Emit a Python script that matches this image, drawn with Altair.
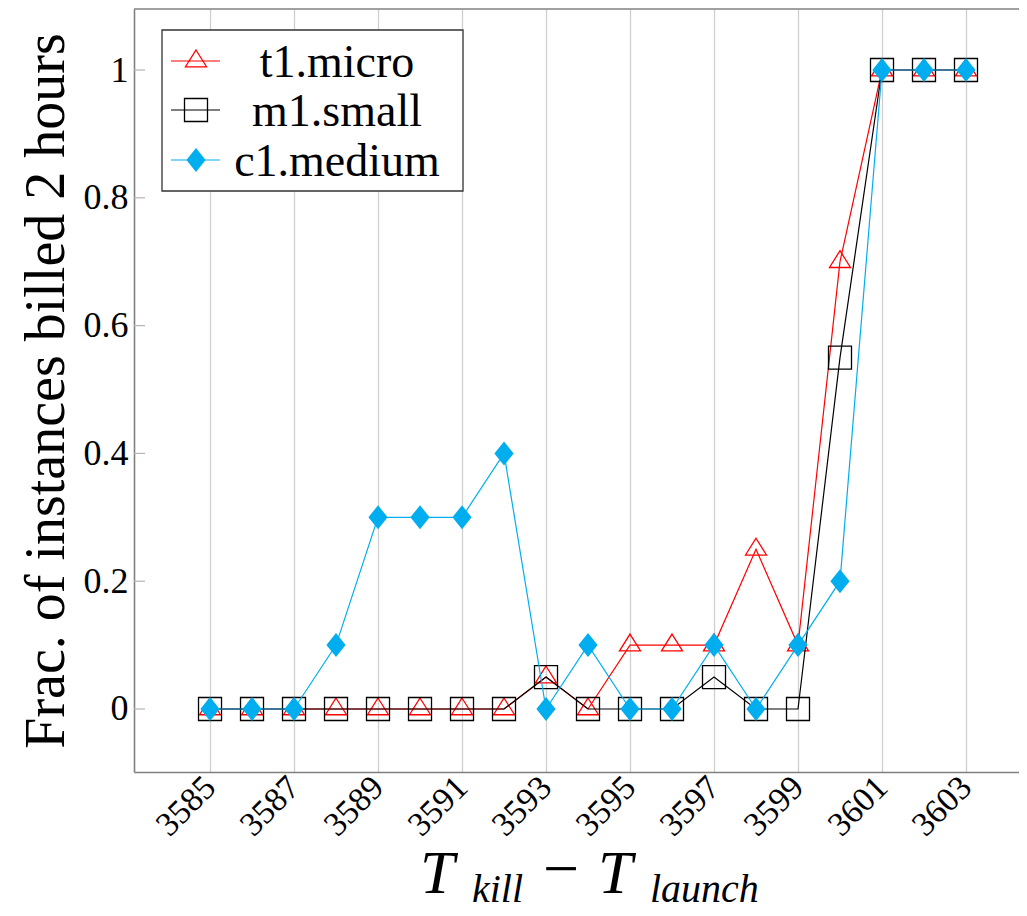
import altair as alt
import pandas as pd

# ---- data ----
x_vals = list(range(3585, 3604))
t1_micro = [0, 0, 0, 0, 0, 0, 0, 0, 0.05, 0, 0.1, 0.1, 0.1, 0.25, 0.1, 0.7, 1, 1, 1]
m1_small = [0, 0, 0, 0, 0, 0, 0, 0, 0.05, 0, 0, 0, 0.05, 0, 0, 0.55, 1, 1, 1]
c1_medium = [0, 0, 0, 0.1, 0.3, 0.3, 0.3, 0.4, 0, 0.1, 0, 0, 0.1, 0, 0.1, 0.2, 1, 1, 1]
series_names = ["t1.micro", "m1.small", "c1.medium"]
x_tick_values = list(range(3585, 3604, 2))
y_tick_values = [0, 0.2, 0.4, 0.6, 0.8, 1]

series_values = [t1_micro, m1_small, c1_medium]
rows = []
for name, vals in zip(series_names, series_values):
    for xv, yv in zip(x_vals, vals):
        rows.append({"series": name, "x": xv, "y": yv})
df = pd.DataFrame(rows)
ticks_df = pd.DataFrame({"v": y_tick_values})
one = pd.DataFrame({"k": [0]})

# ---- style ----
FONT = "'Liberation Serif', 'Times New Roman', 'DejaVu Serif', serif"
RED = "#ff0000"
BLACK = "#000000"
CYAN = "#00aeef"
W, H = 885, 763
TRI = "M0,-1.05L1,0.55L-1,0.55Z"
SQ = "square"
DIA = "M0,-1L0.8,0L0,1L-0.8,0Z"
styles = {
    "t1.micro": dict(color=RED, shape=TRI, filled=False, size=441),
    "m1.small": dict(color=BLACK, shape=SQ, filled=False, size=529),
    "c1.medium": dict(color=CYAN, shape=DIA, filled=True, size=576),
}

xscale = alt.Scale(domain=[3583.19, 3604.262], nice=False, zero=False)
yscale = alt.Scale(domain=[-0.0986, 1.0955], nice=False, zero=False)

xaxis = alt.Axis(values=x_tick_values, format="d", labelAngle=315, labelAlign="right",
                 labelBaseline="middle", labelFont=FONT, labelFontSize=34, labelColor="black",
                 labelPadding=10, ticks=False, grid=True, gridColor="#cfcfcf", gridWidth=1.3,
                 domainColor="#808080", domainWidth=1.6, title=None, labelFlush=False,
                 labelOverlap=False)
yaxis = alt.Axis(values=y_tick_values, format="~g", labelFont=FONT, labelFontSize=36,
                 labelColor="black", labelPadding=6, ticks=False, grid=False,
                 domainColor="#808080", domainWidth=1.6,
                 title="Frac. of instances billed 2 hours", titleFont=FONT, titleFontSize=56,
                 titleFontWeight="normal", titleColor="black", titlePadding=8)

base = alt.Chart(df)

layers = []
# inward y ticks
layers.append(
    alt.Chart(ticks_df).mark_rule(color="#b5b5b5", strokeWidth=1.2).encode(
        x=alt.value(0), x2=alt.value(11),
        y=alt.Y("v:Q", scale=yscale, axis=yaxis),
    )
)
for name in series_names:
    st = styles[name]
    sub = base.transform_filter(alt.datum.series == name)
    enc = dict(x=alt.X("x:Q", scale=xscale, axis=xaxis),
               y=alt.Y("y:Q", scale=yscale, axis=yaxis))
    layers.append(sub.mark_line(color=st["color"], strokeWidth=1.2).encode(**enc))
    if st["filled"]:
        pm = sub.mark_point(shape=st["shape"], size=st["size"], filled=True,
                            color=st["color"], opacity=1, strokeWidth=0)
    else:
        pm = sub.mark_point(shape=st["shape"], size=st["size"], filled=False,
                            color=st["color"], opacity=1, strokeWidth=1.3)
    layers.append(pm.encode(**enc))

# top frame line
layers.append(
    alt.Chart(one).mark_rule(color="#808080", strokeWidth=1.6).encode(
        x=alt.value(0), x2=alt.value(W), y=alt.value(0)
    )
)

# legend box
layers.append(
    alt.Chart(one).mark_rect(fill="white", stroke="#333333", strokeWidth=1.3).encode(
        x=alt.value(28), x2=alt.value(329), y=alt.value(21), y2=alt.value(182)
    )
)
legend_rows_y = [52, 101, 151]
for name, ry in zip(series_names, legend_rows_y):
    st = styles[name]
    layers.append(
        alt.Chart(one).mark_rule(color=st["color"], strokeWidth=1.2).encode(
            x=alt.value(37), x2=alt.value(86), y=alt.value(ry)
        )
    )
    if st["filled"]:
        lm = alt.Chart(one).mark_point(shape=st["shape"], size=st["size"], filled=True,
                                       color=st["color"], opacity=1, strokeWidth=0)
    else:
        lm = alt.Chart(one).mark_point(shape=st["shape"], size=st["size"], filled=False,
                                       color=st["color"], opacity=1, strokeWidth=1.3)
    layers.append(lm.encode(x=alt.value(62), y=alt.value(ry)))
    layers.append(
        alt.Chart(one).mark_text(font=FONT, fontSize=46, align="center", baseline="middle",
                                 color="black").encode(
            x=alt.value(203), y=alt.value(ry + 2), text=alt.value(name)
        )
    )

# x-axis title: T_kill - T_launch
title_parts = [
    ("T", 286, 884, 62, "italic"),
    ("kill", 338, 893, 40, "italic"),
    ("\u2212", 409, 881, 64, "normal"),
    ("T", 464, 884, 62, "italic"),
    ("launch", 516, 893, 40, "italic"),
]
for txt, tx, ty, fs, fst in title_parts:
    layers.append(
        alt.Chart(one).mark_text(font=FONT, fontSize=fs, fontStyle=fst, align="left",
                                 baseline="alphabetic", color="black").encode(
            x=alt.value(tx), y=alt.value(ty), text=alt.value(txt)
        )
    )

chart = alt.layer(*layers).properties(
    width=W, height=H,
    padding={"left": 126, "top": 1, "right": 0, "bottom": 140},
    autosize=alt.AutoSizeParams(type="none"),
).configure_view(stroke=None)

chart.save("out.html", embed_options={"renderer": "svg", "actions": False})
